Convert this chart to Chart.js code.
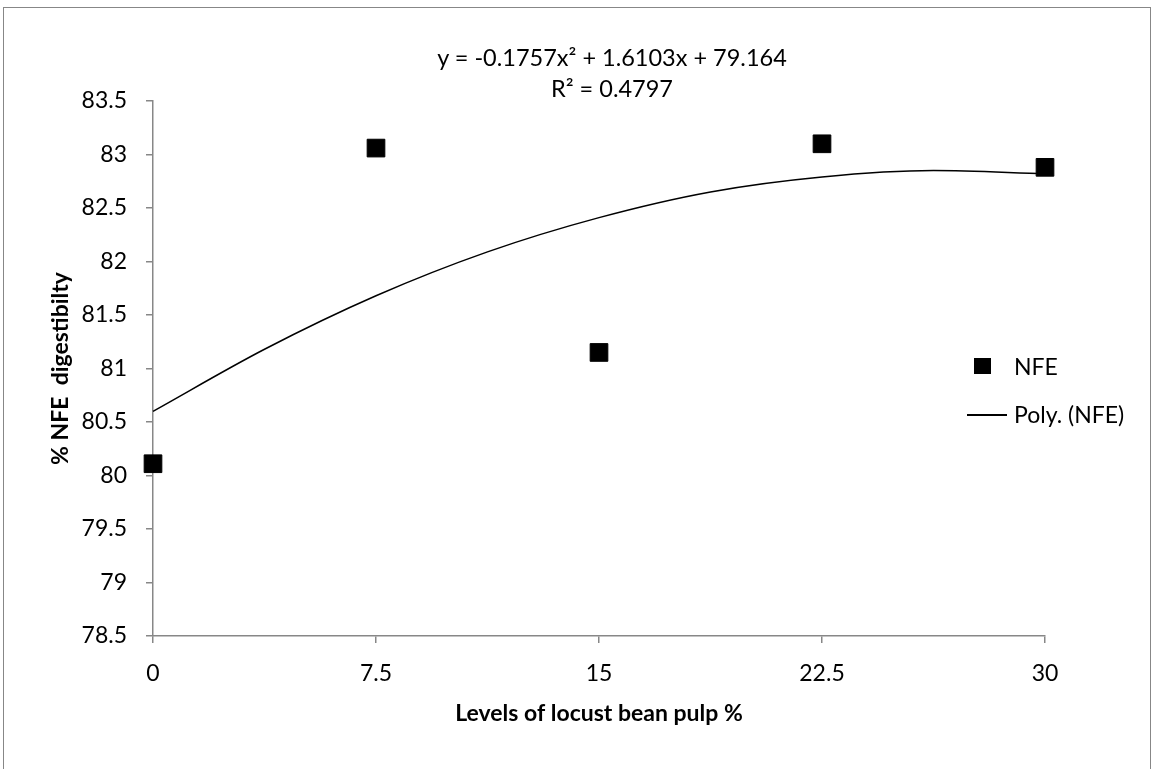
<!DOCTYPE html>
<html>
<head>
<meta charset="utf-8">
<script src="https://cdn.jsdelivr.net/npm/chart.js@4.4.1/dist/chart.umd.min.js"></script>
<style>
  body { margin: 0; background: #fff; }
  #wrap { position: relative; width: 1155px; height: 769px; overflow: hidden; font-family: Lato, sans-serif; color: #000; }
  #frame { position: absolute; left: 3px; top: 7px; width: 1148px; height: 800px; border: 1.5px solid #878787; box-sizing: border-box; }
  #myChart { position: absolute; left: 0; top: 0; }
  .eq { position: absolute; left: 362px; width: 500px; text-align: center; font-size: 23.5px; line-height: 30px; white-space: nowrap; }
  .leg { position: absolute; left: 960px; font-size: 23px; line-height: 30px; white-space: nowrap; }
  .leg .mark { position: absolute; }
  .leg span.txt { position: absolute; left: 54px; }
</style>
</head>
<body>
<div id="wrap">
  <div id="frame"></div>
  <canvas id="myChart" width="1155" height="769"></canvas>
  <div class="eq" id="eq1" style="top:42px"></div>
  <div class="eq" id="eq2" style="top:73px"></div>
  <div class="leg" id="leg1" style="top:351px"><div class="mark" style="left:14px;top:7px;width:17px;height:16px;background:#000"></div><span class="txt"></span></div>
  <div class="leg" id="leg2" style="top:399px"><div class="mark" style="left:7px;top:15px;width:40px;height:1.5px;background:#000"></div><span class="txt"></span></div>
</div>
<script>
const levels = [0, 7.5, 15, 22.5, 30];
const nfe = [80.11, 83.06, 81.15, 83.10, 82.88];

// polynomial trendline
const trendLevels = [0, 3.75, 7.5, 11.25, 15, 18.75, 22.5, 26.25, 30];
const trendValues = [80.60, 81.18, 81.68, 82.09, 82.41, 82.65, 82.79, 82.85, 82.82];

const yTicks = [78.5, 79, 79.5, 80, 80.5, 81, 81.5, 82, 82.5, 83, 83.5];
const xTicks = [0, 7.5, 15, 22.5, 30];

const equation = 'y = -0.1757x² + 1.6103x + 79.164';
const rSquared = 'R² = 0.4797';
const seriesName = 'NFE';
const trendName = 'Poly. (NFE)';

document.getElementById('eq1').textContent = equation;
document.getElementById('eq2').textContent = rSquared;
document.querySelector('#leg1 .txt').textContent = seriesName;
document.querySelector('#leg2 .txt').textContent = trendName;

const axisColor = '#878787';
const font = { family: 'Lato', size: 23 };
const titleFont = { family: 'Lato', size: 23, weight: 'bold' };

const ctx = document.getElementById('myChart');

new Chart(ctx, {
    type: 'scatter',
    data: {
        datasets: [{
            label: seriesName,
            data: levels.map((x, i) => ({ x: x, y: nfe[i] })),
            pointStyle: 'rect',
            pointRadius: 12.5,
            backgroundColor: '#000',
            borderColor: '#000',
            borderWidth: 1,
            clip: false
        }, {
            label: trendName,
            data: trendLevels.map((x, i) => ({ x: x, y: trendValues[i] })),
            showLine: true,
            pointRadius: 0,
            borderColor: '#000',
            borderWidth: 1.5,
            cubicInterpolationMode: 'monotone',
            clip: false
        }]
    },
    options: {
        responsive: false,
        animation: false,
        layout: { padding: { left: 47.2, top: 101, right: 110, bottom: 41.2 } },
        plugins: {
            legend: { display: false },
            tooltip: { enabled: false }
        },
        scales: {
            x: {
                type: 'linear',
                min: 0,
                max: 30,
                afterBuildTicks: (scale) => { scale.ticks = xTicks.map(v => ({ value: v })); },
                afterFit: (scale) => { scale.height = 91.8; },
                grid: { drawOnChartArea: false, tickLength: 7, color: axisColor, lineWidth: 1.5 },
                border: { color: axisColor, width: 1.5 },
                ticks: { color: '#000', font: font, padding: 17, maxRotation: 0, autoSkip: false,
                    callback: (v) => String(v) },
                title: { display: true, text: 'Levels of locust bean pulp %', color: '#000',
                    font: titleFont, padding: 0 }
            },
            y: {
                min: 78.5,
                max: 83.5,
                afterBuildTicks: (scale) => { scale.ticks = yTicks.map(v => ({ value: v })); },
                afterFit: (scale) => { scale.width = 105.8; },
                grid: { drawOnChartArea: false, tickLength: 7, color: axisColor, lineWidth: 1.5 },
                border: { color: axisColor, width: 1.5 },
                ticks: { color: '#000', font: font, padding: 19, callback: (v) => String(v) },
                title: { display: true, text: '% NFE  digestibilty', color: '#000',
                    font: titleFont, padding: 0 }
            }
        }
    }
});
</script>
</body>
</html>
